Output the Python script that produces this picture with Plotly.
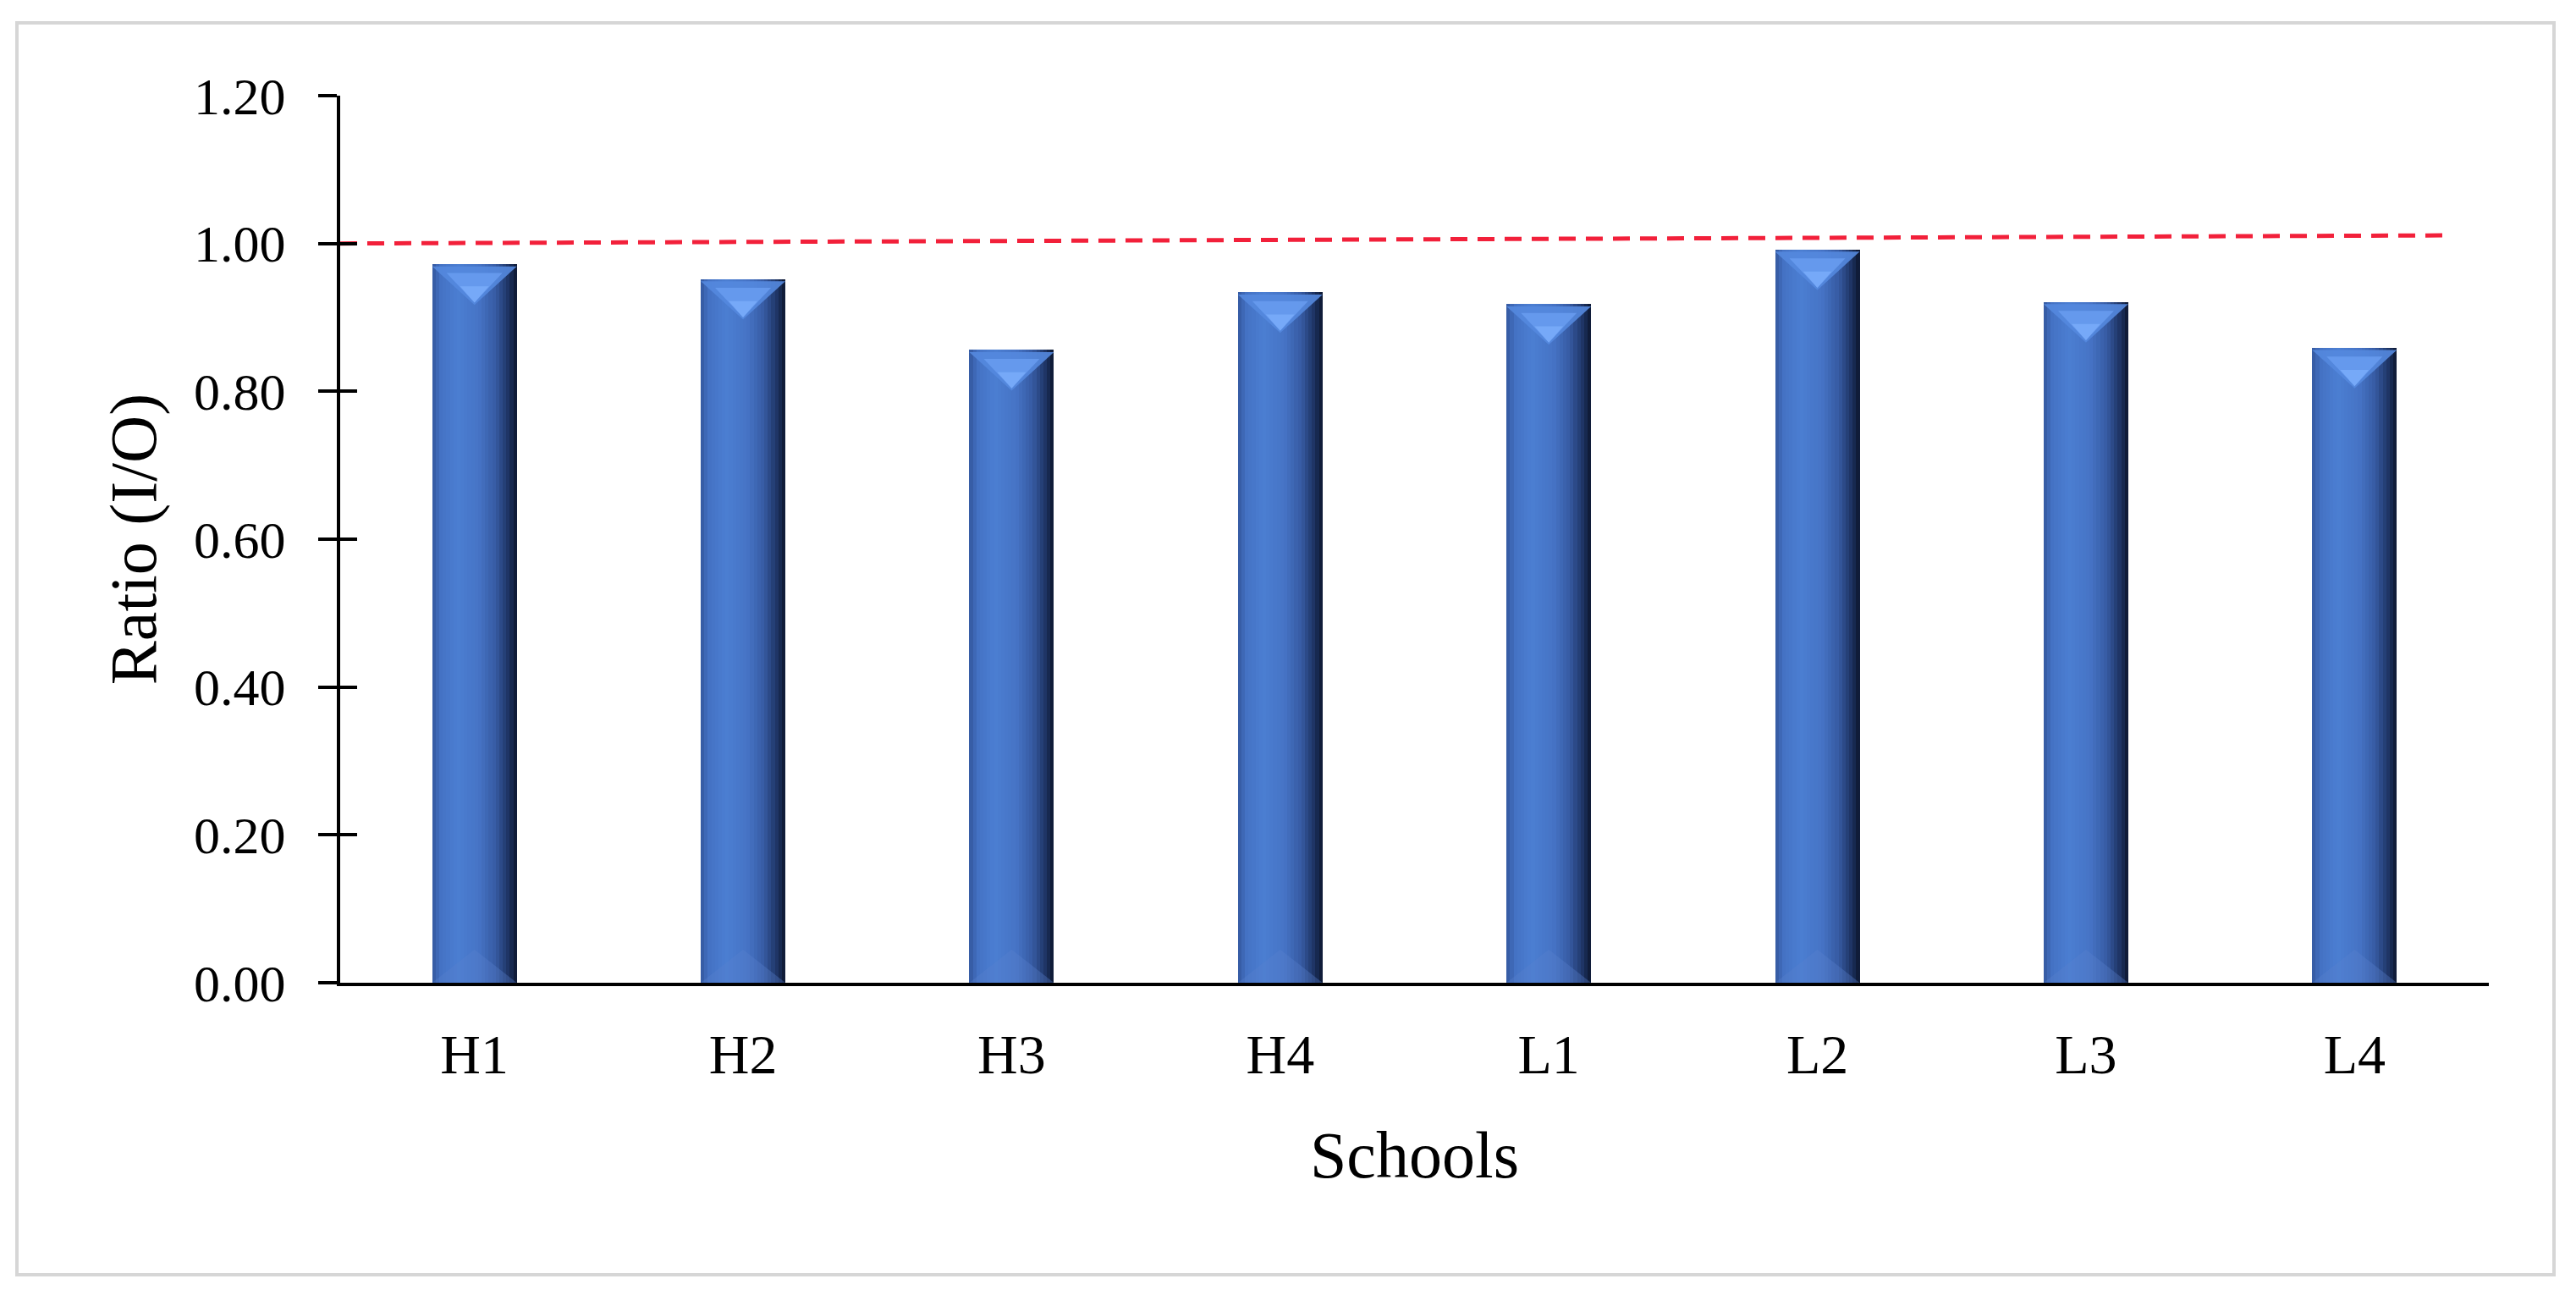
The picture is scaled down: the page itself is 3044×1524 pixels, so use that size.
import plotly.graph_objects as go

# ---------------- data ----------------
schools = ["H1", "H2", "H3", "H4", "L1", "L2", "L3", "L4"]
ratio_io = [0.972, 0.952, 0.856, 0.934, 0.918, 0.992, 0.921, 0.859]
ref_line_x = [-0.5, 7.36]
ref_line_y = [1.000, 1.011]
y_ticks = [0.0, 0.2, 0.4, 0.6, 0.8, 1.0, 1.2]

# ---------------- style ----------------
OFF = 8  # default page body margin
W, H = 3044 - OFF, 1524 - OFF
L, R, T, B = 402 - OFF, W + OFF - 2941, 113 - OFF, H + OFF - 1161
BAR_W = 0.315
N_STRIPS = 24
FONT = "Liberation Serif"

stops = [
    (0.00, (52, 88, 158)),
    (0.10, (68, 114, 196)),
    (0.30, (75, 126, 210)),
    (0.55, (70, 116, 198)),
    (0.75, (54, 90, 162)),
    (0.90, (30, 52, 100)),
    (1.00, (12, 22, 46)),
]


def color_at(t):
    for (t0, c0), (t1, c1) in zip(stops[:-1], stops[1:]):
        if t0 <= t <= t1:
            f = (t - t0) / (t1 - t0) if t1 > t0 else 0
            c = [round(a + (b - a) * f) for a, b in zip(c0, c1)]
            return f"rgb({c[0]},{c[1]},{c[2]})"
    c = stops[-1][1]
    return f"rgb({c[0]},{c[1]},{c[2]})"


x_idx = list(range(len(schools)))
fig = go.Figure()

# gradient bars built from vertical strips
sw = BAR_W / N_STRIPS
for k in range(N_STRIPS):
    t = (k + 0.5) / N_STRIPS
    extra = sw * 0.6 if k < N_STRIPS - 1 else 0
    fig.add_trace(go.Bar(
        x=x_idx, y=ratio_io,
        width=sw + extra,
        offset=-BAR_W / 2 + k * sw,
        marker=dict(color=color_at(t), line=dict(width=0)),
        showlegend=False, hoverinfo="skip",
    ))


# top bevel (light V) and bottom bevel, derived from the data values
def tri_trace(depth, top, color, inner=1.0, gap=0.006):
    xs, ys = [], []
    for i, v in zip(x_idx, ratio_io):
        half = BAR_W / 2 * inner
        base_y = v - gap if top else 0.0
        tip = base_y - depth if top else base_y + depth
        xs += [i - half, i + half, i, i - half, None]
        ys += [base_y, base_y, tip, base_y, None]
    return go.Scatter(x=xs, y=ys, mode="lines", fill="toself",
                      fillcolor=color, line=dict(width=0),
                      showlegend=False, hoverinfo="skip")


fig.add_trace(tri_trace(0.052, True, "rgba(84,136,222,0.9)", gap=0.003))
fig.add_trace(tri_trace(0.040, True, "rgba(104,156,240,0.85)", inner=0.66, gap=0.012))
fig.add_trace(tri_trace(0.022, True, "rgba(122,172,250,0.8)", inner=0.34, gap=0.030))
fig.add_trace(tri_trace(0.045, False, "rgba(90,130,205,0.35)"))

# reference dashed line
fig.add_trace(go.Scatter(
    x=ref_line_x, y=ref_line_y, mode="lines", yaxis="y2",
    line=dict(color="#f2203a", width=5, dash="20px,12px"),
    showlegend=False, hoverinfo="skip",
))

# outer frame (page pixel coords converted to paper)
pw, ph = W - L - R, H - T - B
fx0, fx1 = 20 - OFF, 3018 - OFF
fy0, fy1 = 27 - OFF, 1506 - OFF
fig.add_shape(type="rect", xref="paper", yref="paper",
              x0=(fx0 - L) / pw, x1=(fx1 - L) / pw,
              y0=(H - B - fy1) / ph, y1=(H - B - fy0) / ph,
              line=dict(color="#d6d6d6", width=4), fillcolor="rgba(0,0,0,0)",
              layer="below")

fig.update_layout(
    width=W, height=H, autosize=False,
    margin=dict(l=L, r=R, t=T, b=B, pad=0),
    paper_bgcolor="white", plot_bgcolor="white",
    barmode="overlay", bargap=0,
    font=dict(family=FONT, color="black"),
    xaxis=dict(
        range=[-0.5, 7.5], tickmode="array", tickvals=x_idx, ticktext=schools,
        showgrid=False, zeroline=False, showline=True, linecolor="black",
        linewidth=4, ticks="", tickfont=dict(size=66, family=FONT),
        ticklabelstandoff=24,
        title=dict(text="Schools", font=dict(size=78, family=FONT), standoff=56),
    ),
    yaxis=dict(
        range=[0, 1.2], tickmode="array", tickvals=y_ticks, tickformat=".2f",
        showgrid=False, zeroline=False, showline=True, linecolor="black",
        linewidth=4, ticks="outside", ticklen=22, tickwidth=4, tickcolor="black",
        tickfont=dict(size=62, family=FONT), ticklabelstandoff=26,
        title=dict(text="Ratio (I/O)", font=dict(size=78, family=FONT), standoff=20),
    ),
    yaxis2=dict(
        range=[0, 1.2], overlaying="y", side="left", tickmode="array",
        tickvals=y_ticks, showticklabels=False, showgrid=False, zeroline=False,
        showline=False, ticks="inside", ticklen=20, tickwidth=4,
        tickcolor="black",
    ),
)

fig.write_html("out.html")
